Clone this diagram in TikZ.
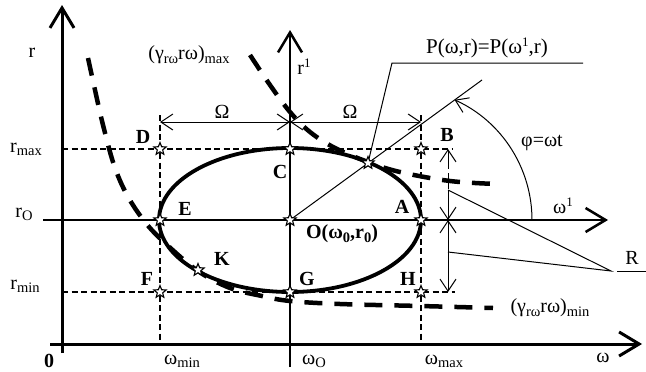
\documentclass[tikz,border=0pt]{standalone}
\usepackage{fontspec}
\setmainfont{Liberation Serif}
\usetikzlibrary{arrows.meta,shapes.geometric}
\newcommand\sbx[1]{\raisebox{-0.35ex}{\fontsize{14.5}{14.5}\selectfont #1}}
\newcommand\spx[1]{\raisebox{0.75ex}{\fontsize{13}{13}\selectfont #1}}
\begin{document}
\begin{tikzpicture}[x=1pt,y=-1pt,
  mainaxis/.style={line width=3pt,-{Straight Barb[length=20pt,width=24pt,line width=3pt]}},
  subaxis/.style={line width=2.5pt,-{Straight Barb[length=20pt,width=24pt,line width=2.5pt]}},
  guide/.style={line width=1.1pt,dash pattern=on 6pt off 3.5pt},
  thinline/.style={line width=1pt},
  dimline/.style={line width=1pt},
  bigdash/.style={line width=4.5pt,dash pattern=on 18pt off 12pt},
  ell/.style={line width=3.8pt},
  starmark/.style={star,star points=5,star point ratio=2.3,minimum size=13pt,inner sep=0pt,draw,fill=white,line width=1.1pt},
  lab/.style={font=\fontsize{20}{22}\selectfont,inner sep=0pt},
  blab/.style={font=\bfseries\fontsize{20}{22}\selectfont,inner sep=0pt},
  biglab/.style={font=\fontsize{21}{23}\selectfont,inner sep=0pt}
]
\useasboundingbox (0,0) rectangle (646,372);

% guide lines
\draw[guide] (160,115) -- (160,344);
\draw[guide] (421,115) -- (421,344);
\draw[guide] (62,149) -- (453,149);
\draw[guide] (62,292) -- (455,292);

% envelope curves
\draw[bigdash] plot[smooth,tension=0.6] coordinates {(250,55) (270,85) (290,112) (310,132) (335,148) (368,162) (400,172) (450,181) (497,184)};
\draw[bigdash] plot[smooth,tension=0.6] coordinates {(88,58) (95,90) (103,125) (114,165) (127,195) (145,222) (165,243) (198,271) (230,288) (262,296) (290,301) (340,304) (420,306) (493,308)};

% axes
\coordinate (rb) at (62,353);  \coordinate (rt) at (62,5);
\coordinate (wl) at (50,344);  \coordinate (wr) at (642,344);
\coordinate (r1b) at (290,367); \coordinate (r1t) at (290,30);
\coordinate (w1l) at (43,220); \coordinate (w1r) at (608,220);
\draw[mainaxis] (rb) -- (rt);
\draw[mainaxis] (wl) -- (wr);
\draw[subaxis] (r1b) -- (r1t);
\draw[subaxis] (w1l) -- (w1r);

% ellipse
\coordinate (O) at (290,220);
\draw[ell] (O) ellipse [x radius=131pt, y radius=72pt];

% radial line and angle
\coordinate (Pp) at (368,163);
\coordinate (Rend) at (482,80);
\draw[thinline] (O) -- (Rend);
\coordinate (arcS) at (532,220);
\draw[thinline,-{Straight Barb[length=12pt,width=16pt,line width=1pt]}] (arcS) arc[start angle=0,end angle=65.6,radius=132pt];

% P leader
\coordinate (Pk) at (392,63);
\coordinate (Pe) at (583,63);
\draw[thinline] (Pp) -- (Pk) -- (Pe);

% Omega dimensions
\coordinate (om1) at (160,122); \coordinate (om2) at (290,122); \coordinate (om3) at (421,122);
\draw[dimline,{Straight Barb[length=12pt,width=16pt,line width=1pt]}-{Straight Barb[length=12pt,width=16pt,line width=1pt]}] (om1) -- (om2);
\draw[dimline,{Straight Barb[length=12pt,width=16pt,line width=1pt]}-{Straight Barb[length=12pt,width=16pt,line width=1pt]}] (om2) -- (om3);

% vertical R dimensions
\coordinate (v1) at (448,149); \coordinate (v1a) at (448,163); \coordinate (v1b) at (448,190);
\coordinate (v2) at (448,220); \coordinate (v3) at (448,292); \coordinate (v4) at (448,252);
\draw[dimline,{Straight Barb[length=12pt,width=16pt,line width=1pt]}-] (v1) -- (v1a);
\draw[dimline,dash pattern=on 6pt off 4pt] (v1a) -- (v1b);
\draw[dimline,-{Straight Barb[length=12pt,width=16pt,line width=1pt]}] (v1b) -- (v2);
\draw[dimline,{Straight Barb[length=12pt,width=16pt,line width=1pt]}-{Straight Barb[length=12pt,width=16pt,line width=1pt]}] (v2) -- (v3);
\coordinate (Rp) at (611,271);
\coordinate (Ru1) at (617,271); \coordinate (Ru2) at (646,271);
\draw[thinline] (v1b) -- (Rp) -- (v4);
\draw[thinline] (Ru1) -- (Ru2);

% stars
\node[starmark] (A) at (421,220) {};
\node[starmark] (B) at (421,149) {};
\node[starmark] (C) at (290,149) {};
\node[starmark] (D) at (160,149) {};
\node[starmark] (E) at (160,220) {};
\node[starmark] (F) at (160,292) {};
\node[starmark] (G) at (290,292) {};
\node[starmark] (H) at (421,292) {};
\node[starmark] (K) at (198,270) {};
\node[starmark] (Os) at (290,220) {};
\node[starmark] (P) at (368,163) {};

% point labels
\node[blab] (lA) at (402,207) {A};
\node[blab] (lB) at (447,135) {B};
\node[blab] (lC) at (280,172) {C};
\node[blab] (lD) at (143,137) {D};
\node[blab] (lE) at (185,209) {E};
\node[blab] (lF) at (147,279) {F};
\node[blab] (lG) at (307,279) {G};
\node[blab] (lH) at (408,279) {H};
\node[blab] (lK) at (222,259) {K};
\node[blab] (lO) at (342,234) {O(ω\sbx{\bfseries 0},r\sbx{\bfseries 0})};

% axis labels
\node[lab] (lr) at (32,53) {r};
\node[lab] (lrmax) at (26,149) {r\sbx{max}};
\node[lab] (lro) at (24,214) {r\sbx{O}};
\node[lab] (lrmin) at (25,286) {r\sbx{min}};
\node[blab] (l0) at (49,361) {0};
\node[lab] (lwmin) at (182,361) {ω\sbx{min}};
\node[lab] (lwo) at (314,361) {ω\sbx{O}};
\node[lab] (lwmax) at (444,361) {ω\sbx{max}};
\node[lab] (lw) at (603,358) {ω};
\node[lab] (lr1) at (304,67) {r\spx{1}};
\node[lab] (lw1) at (563,206) {ω\spx{1}};
\node[lab] (lgmax) at (189,55) {(γ\sbx{rω}rω)\sbx{max}};
\node[lab] (lgmin) at (550,308) {(γ\sbx{rω}rω)\sbx{min}};
\node[lab] (lOm1) at (222,112) {Ω};
\node[lab] (lOm2) at (350,112) {Ω};
\node[biglab] (lP) at (487,48) {P(ω,r)=P(ω\spx{1},r)};
\node[lab] (lphi) at (542,143) {φ=ωt};
\node[lab] (lR) at (632,258) {R};
\end{tikzpicture}
\end{document}
